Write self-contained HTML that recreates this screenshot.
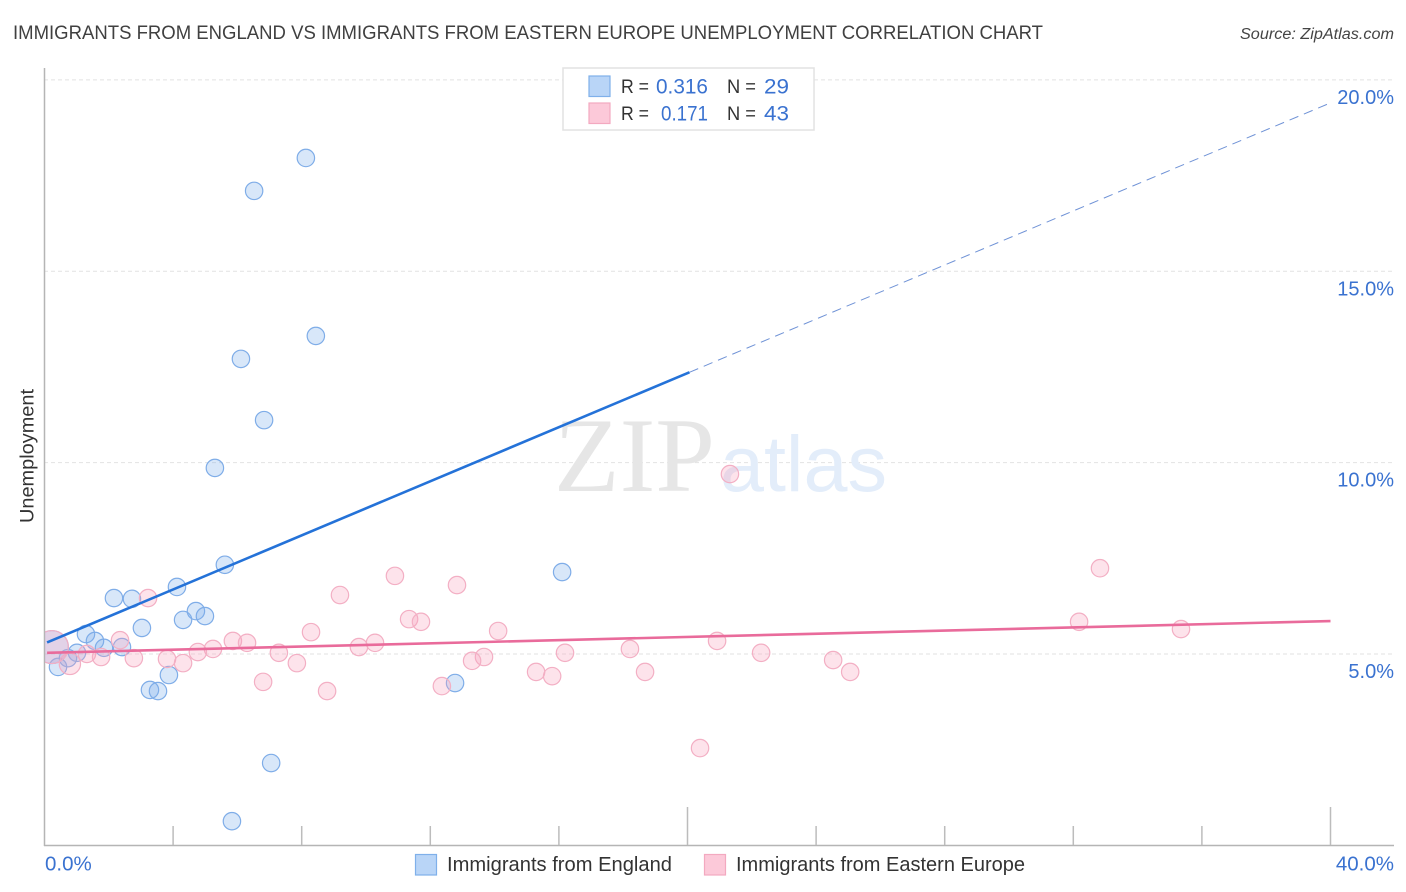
<!DOCTYPE html>
<html lang="en">
<head>
<meta charset="utf-8">
<title>Immigrants from England vs Immigrants from Eastern Europe Unemployment Correlation Chart</title>
<style>
html,body{margin:0;padding:0;background:#fff;width:1406px;height:892px;overflow:hidden}
svg{display:block;font-family:"Liberation Sans",sans-serif}
</style>
</head>
<body>
<svg id="chart" xmlns="http://www.w3.org/2000/svg" width="1406" height="892" viewBox="0 0 1406 892">
<defs><clipPath id="plot-clip"><rect x="45" y="60" width="1349" height="785"/></clipPath></defs>
<text x="13" y="39" font-size="19" fill="#404040" textLength="1030" lengthAdjust="spacingAndGlyphs">IMMIGRANTS FROM ENGLAND VS IMMIGRANTS FROM EASTERN EUROPE UNEMPLOYMENT CORRELATION CHART</text>
<text x="1394" y="39" font-size="15.5" font-style="italic" fill="#444" text-anchor="end" textLength="154" lengthAdjust="spacingAndGlyphs">Source: ZipAtlas.com</text>
<g id="grid"></g>
<g>
<text x="554" y="491" font-family="'Liberation Serif',serif" font-size="106" fill="#e6e6e6" textLength="161" lengthAdjust="spacingAndGlyphs">ZIP</text>
<text x="720" y="491" font-size="79" fill="#e3edfa" textLength="167" lengthAdjust="spacingAndGlyphs">atlas</text>
</g>
<g id="axes"></g>
<g id="points" clip-path="url(#plot-clip)"></g>
<g id="trends" clip-path="url(#plot-clip)"></g>
<g id="ylabels"></g>
<g id="xlabels"></g>
<text transform="translate(33.5,456) rotate(-90)" font-size="19" fill="#333" text-anchor="middle" textLength="134" lengthAdjust="spacingAndGlyphs">Unemployment</text>
<g>
<rect x="563" y="68" width="251" height="62" fill="#fff" stroke="#e2e2e2" stroke-width="1.5"/>
<rect x="589" y="76" width="21" height="20.5" fill="#b9d5f7" stroke="#7fb0ea" stroke-width="1.2"/>
<rect x="589" y="103" width="21" height="20.5" fill="#fcc9d9" stroke="#f3a9c0" stroke-width="1.2"/>
<g font-size="20">
<text x="621" y="93" fill="#333" font-size="19" textLength="28" lengthAdjust="spacingAndGlyphs">R =</text>
<text x="656" y="93.5" fill="#3a72d0" font-size="21" textLength="52" lengthAdjust="spacingAndGlyphs">0.316</text>
<text x="727" y="93" fill="#333" font-size="19" textLength="29" lengthAdjust="spacingAndGlyphs">N =</text>
<text x="764" y="93.5" fill="#3a72d0" font-size="21" textLength="25" lengthAdjust="spacingAndGlyphs">29</text>
<text x="621" y="120" fill="#333" font-size="19" textLength="28" lengthAdjust="spacingAndGlyphs">R =</text>
<text x="661" y="120.5" fill="#3a72d0" font-size="21" textLength="47" lengthAdjust="spacingAndGlyphs">0.171</text>
<text x="727" y="120" fill="#333" font-size="19" textLength="29" lengthAdjust="spacingAndGlyphs">N =</text>
<text x="764" y="120.5" fill="#3a72d0" font-size="21" textLength="25" lengthAdjust="spacingAndGlyphs">43</text>
</g>
</g>
<g>
<rect x="415.5" y="854.5" width="21" height="20.5" fill="#b9d5f7" stroke="#7fb0ea" stroke-width="1.2"/>
<text x="447" y="871" font-size="20" fill="#333" textLength="225" lengthAdjust="spacingAndGlyphs">Immigrants from England</text>
<rect x="704.5" y="854.5" width="21" height="20.5" fill="#fcc9d9" stroke="#f3a9c0" stroke-width="1.2"/>
<text x="736" y="871" font-size="20" fill="#333" textLength="289" lengthAdjust="spacingAndGlyphs">Immigrants from Eastern Europe</text>
</g>
</svg>
<script>
// Chart data (percent values)
const englandX = [8.13,6.52,8.44,6.11,6.83,5.30,5.61,16.10,4.12,2.16,2.72,4.71,4.99,4.31,3.03,1.29,1.57,2.41,1.85,1.01,0.73,0.42,3.87,3.28,3.53,12.77,7.05,5.83,0.23];
const englandY = [17.96,17.10,13.31,12.71,11.11,9.86,7.33,7.14,6.75,6.46,6.44,6.12,5.99,5.89,5.68,5.52,5.34,5.18,5.16,5.03,4.89,4.66,4.45,4.06,4.03,4.24,2.15,0.63,5.18];
const englandWeight = [1,1,1,1,1,1,1,1,1,1,1,1,1,1,1,1,1,1,1,1,1,1,1,1,1,1,1,1,3.6];
const easternX = [21.32,32.83,10.90,12.83,9.19,3.22,11.34,11.71,32.18,35.35,8.29,14.11,2.35,5.86,6.30,10.28,9.78,20.92,18.21,5.24,4.77,7.29,16.19,22.29,1.32,1.76,2.78,3.81,13.67,13.30,24.53,7.85,4.31,0.79,15.29,15.79,18.68,25.06,6.80,12.36,8.79,20.39,0.23];
const easternY = [9.70,7.24,7.04,6.80,6.54,6.46,5.91,5.84,5.84,5.65,5.57,5.60,5.36,5.34,5.29,5.29,5.18,5.34,5.13,5.13,5.05,5.03,5.03,5.03,5.00,4.92,4.89,4.87,4.92,4.82,4.84,4.76,4.76,4.74,4.53,4.42,4.53,4.53,4.27,4.16,4.03,2.54,5.18];
const easternWeight = [1,1,1,1,1,1,1,1,1,1,1,1,1,1,1,1,1,1,1,1,1,1,1,1,1,1,1,1,1,1,1,1,1,1.5,1,1,1,1,1,1,1,1,3.6];
const englandTrendX = [0.08,20.06,40];
const englandTrendY = [5.30,12.36,19.40];
const easternTrendX = [0.08,40];
const easternTrendY = [5.03,5.86];
const yTicks = [5,10,15,20];
const yTickLabels = ['5.0%','10.0%','15.0%','20.0%'];
const xTicks = [0,4,8,12,16,20,24,28,32,36,40];
const xMajorTicks = [0,20,40];
const xEndLabels = ['0.0%','40.0%'];
const xEndValues = [0,40];

const NS = 'http://www.w3.org/2000/svg';
function sx(v){ return 44.5 + v * 32.15; }
function sy(v){ return 845.3 - v * 38.27; }
function make(tag, attrs, parent){
  const el = document.createElementNS(NS, tag);
  for (const k in attrs) el.setAttribute(k, attrs[k]);
  parent.appendChild(el);
  return el;
}
const grid = document.getElementById('grid');
const axes = document.getElementById('axes');
const points = document.getElementById('points');
const trends = document.getElementById('trends');
const ylabels = document.getElementById('ylabels');
const xlabels = document.getElementById('xlabels');

yTicks.forEach(function(t, i){
  const line = make('line', {x1:44, x2:1394, y1:sy(t), y2:sy(t), stroke:'#e2e2e2', 'stroke-width':1, 'stroke-dasharray':'4 3'}, grid);
  
  
  const label = make('text', {x:1394, y:sy(t)+24, 'font-size':20, fill:'#3a72d0', 'text-anchor':'end'}, ylabels);
  label.textContent = yTickLabels[i];
  
  
});

const yAxis = make('line', {x1:44.5, x2:44.5, y1:68, y2:846, stroke:'#b5b5b5', 'stroke-width':1.5}, axes);


const xAxis = make('line', {x1:44, x2:1394, y1:845.5, y2:845.5, stroke:'#b5b5b5', 'stroke-width':1.5}, axes);


xTicks.forEach(function(t){
  if (t === 0) return;
  const major = xMajorTicks.indexOf(t) >= 0;
  const tick = make('line', {x1:sx(t), x2:sx(t), y1:major ? 807 : 826, y2:845, stroke:'#bcbcbc', 'stroke-width':1.5}, axes);
  
  
});
xEndValues.forEach(function(v, i){
  const label = make('text', {x: i === 0 ? sx(v) + 0.5 : sx(v) + 63.5, y:870.5, 'font-size':20.5, fill:'#3a72d0', 'text-anchor': i === 0 ? 'start' : 'end'}, xlabels);
  label.textContent = xEndLabels[i];
  
  
});

function radius(w){ return 8.7 * Math.sqrt(w); }
englandX.forEach(function(x, i){
  const c = make('circle', {cx:sx(x), cy:sy(englandY[i]), r:radius(englandWeight[i]), fill:'#7fb0ec', 'fill-opacity':0.3, stroke:'#7fade8', 'stroke-width':1.2}, points);
  
  
});
easternX.forEach(function(x, i){
  const c = make('circle', {cx:sx(x), cy:sy(easternY[i]), r:radius(easternWeight[i]), fill:'#f7a3bd', 'fill-opacity':0.3, stroke:'#f3afc4', 'stroke-width':1.2}, points);
  
  
});

const dashed = make('line', {x1:sx(englandTrendX[1]), y1:sy(englandTrendY[1]), x2:sx(englandTrendX[2]), y2:sy(englandTrendY[2]), stroke:'#6f92d6', 'stroke-width':1, 'stroke-dasharray':'9.5 6'}, trends);


const solid = make('line', {x1:sx(englandTrendX[0]), y1:sy(englandTrendY[0]), x2:sx(englandTrendX[1]), y2:sy(englandTrendY[1]), stroke:'#2472d8', 'stroke-width':2.6}, trends);


const pink = make('line', {x1:sx(easternTrendX[0]), y1:sy(easternTrendY[0]), x2:sx(easternTrendX[1]), y2:sy(easternTrendY[1]), stroke:'#e96b9b', 'stroke-width':2.6}, trends);


</script>
</body>
</html>
